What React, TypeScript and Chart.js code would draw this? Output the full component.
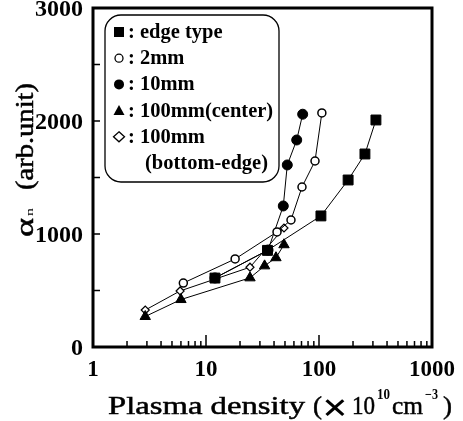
import React, { useEffect, useRef } from 'react';
import { Chart, registerables } from 'chart.js';

Chart.register(...registerables);

// ---- data ----
const edgeX = [12, 35, 104, 181, 255, 319];
const edgeY = [610, 855, 1160, 1478, 1708, 2009];
const mm2X = [6.3, 18.1, 42.5, 56.5, 70.7, 92.2, 106];
const mm2Y = [566, 779, 1018, 1124, 1416, 1646, 2071];
const mm10X = [12, 35.4, 48.3, 52.4, 63.5, 71.7];
const mm10Y = [611, 858, 1248, 1611, 1832, 2060];
const centerX = [2.9, 6.0, 24.5, 33, 41.6, 49];
const centerY = [270, 420, 612, 718, 790, 905];
const bottomX = [2.9, 5.9, 24.5, 49];
const bottomY = [327, 496, 706, 1053];

const xTicks = [1, 10, 100, 1000];
const yTicks = [0, 1000, 2000, 3000];
const yMinorStep = 500;
const legendLabels = ['edge type', '2mm', '10mm', '100mm(center)', '100mm', '(bottom-edge)'];

const SERIF = '"Liberation Serif", "Times New Roman", serif';

const pts = (xs: number[], ys: number[]) => xs.map((x, i) => ({ x, y: ys[i] }));

function fitText(ctx: CanvasRenderingContext2D, text: string, x0: number, x1: number, y: number, stroke = 0) {
  const w = ctx.measureText(text).width;
  ctx.save();
  ctx.translate(x0, y);
  const sx = (x1 - x0) / w;
  ctx.scale(sx, 1);
  ctx.textAlign = 'left';
  ctx.fillText(text, 0, 0);
  if (stroke > 0) {
    ctx.lineWidth = stroke;
    ctx.strokeText(text, 0, 0);
  }
  ctx.restore();
}

function drawSymbol(ctx: CanvasRenderingContext2D, kind: number, x: number, y: number) {
  ctx.save();
  ctx.strokeStyle = '#000';
  ctx.fillStyle = '#000';
  ctx.lineWidth = 1.3;
  ctx.beginPath();
  if (kind === 0) {
    ctx.rect(x - 5, y - 5, 10, 10);
    ctx.fill();
  } else if (kind === 1) {
    ctx.arc(x, y, 4, 0, Math.PI * 2);
    ctx.fillStyle = '#fff';
    ctx.fill();
    ctx.stroke();
  } else if (kind === 2) {
    ctx.arc(x, y, 5, 0, Math.PI * 2);
    ctx.fill();
  } else if (kind === 3) {
    ctx.moveTo(x, y - 5.5);
    ctx.lineTo(x + 5.5, y + 4.5);
    ctx.lineTo(x - 5.5, y + 4.5);
    ctx.closePath();
    ctx.fill();
  } else {
    ctx.moveTo(x, y - 5);
    ctx.lineTo(x + 5.5, y);
    ctx.lineTo(x, y + 5);
    ctx.lineTo(x - 5.5, y);
    ctx.closePath();
    ctx.fillStyle = '#fff';
    ctx.fill();
    ctx.stroke();
  }
  ctx.restore();
}

const decorPlugin = {
  id: 'decor',
  afterDraw(chart: any) {
    const { ctx, chartArea } = chart;
    const xs = chart.scales.x;
    const ys = chart.scales.y;
    const { left, right, top, bottom } = chartArea;
    ctx.save();
    ctx.strokeStyle = '#000';
    ctx.fillStyle = '#000';

    // frame
    ctx.lineWidth = 3;
    ctx.strokeRect(left, top, right - left, bottom - top);

    // inward ticks, x (log)
    ctx.lineWidth = 1.5;
    ctx.beginPath();
    for (let d = 1; d < 1000; d *= 10) {
      for (let m = 1; m <= 9; m++) {
        const v = d * m;
        const px = xs.getPixelForValue(v);
        const len = m === 1 ? 12 : 6;
        ctx.moveTo(px, bottom);
        ctx.lineTo(px, bottom - len);
      }
    }
    // inward ticks, y
    for (let v = yMinorStep; v < 3000; v += yMinorStep) {
      const py = ys.getPixelForValue(v);
      ctx.moveTo(left, py);
      ctx.lineTo(left + 7, py);
    }
    ctx.stroke();

    // x title
    ctx.textBaseline = 'alphabetic';
    ctx.font = `26px ${SERIF}`;
    fitText(ctx, 'Plasma density', 108, 305, 414, 0.5);
    fitText(ctx, '(', 313, 322, 414, 0.5);
    ctx.font = `bold 40px ${SERIF}`;
    fitText(ctx, '\u00D7', 322, 348, 421);
    ctx.font = `26px ${SERIF}`;
    fitText(ctx, '10', 352, 375, 414, 0.5);
    fitText(ctx, 'cm', 392, 423, 414, 0.5);
    fitText(ctx, ')', 443, 452, 414, 0.5);
    ctx.font = `bold 14px ${SERIF}`;
    fitText(ctx, '10', 377, 390, 399);
    fitText(ctx, '\u22123', 425, 438, 399);

    // y title (rotated)
    ctx.save();
    ctx.translate(33, 237);
    ctx.rotate(-Math.PI / 2);
    ctx.font = `25px ${SERIF}`;
    fitText(ctx, '\u03B1', 0, 19, 0, 0.5);
    ctx.font = `11px ${SERIF}`;
    fitText(ctx, 'n', 21, 29, 0);
    ctx.font = `25px ${SERIF}`;
    fitText(ctx, '(arb.unit)', 47, 154, 0, 0.5);
    ctx.restore();

    // legend box
    const bx0 = 105, by0 = 15, bx1 = 279, by1 = 182, r = 16;
    ctx.lineWidth = 1.3;
    ctx.beginPath();
    ctx.moveTo(bx0 + r, by0);
    ctx.lineTo(bx1 - r, by0);
    ctx.arcTo(bx1, by0, bx1, by0 + r, r);
    ctx.lineTo(bx1, by1 - r);
    ctx.arcTo(bx1, by1, bx1 - r, by1, r);
    ctx.lineTo(bx0 + r, by1);
    ctx.arcTo(bx0, by1, bx0, by1 - r, r);
    ctx.lineTo(bx0, by0 + r);
    ctx.arcTo(bx0, by0, bx0 + r, by0, r);
    ctx.closePath();
    ctx.fillStyle = '#fff';
    ctx.fill();
    ctx.stroke();

    ctx.fillStyle = '#000';
    ctx.font = `bold 20.5px ${SERIF}`;
    ctx.textAlign = 'left';
    legendLabels.forEach((lab, i) => {
      const base = 38 + 26.2 * i;
      if (i < 5) {
        drawSymbol(ctx, i, 119, base - 6);
        ctx.fillText(':', 128, base);
        ctx.fillText(lab, 140, base);
      } else {
        ctx.fillText(lab, 145, base);
      }
    });

    ctx.restore();
  },
};

export default function App() {
  const ref = useRef<HTMLCanvasElement | null>(null);

  useEffect(() => {
    if (!ref.current) return;
    const line = { borderColor: '#000', borderWidth: 1, tension: 0, showLine: true, pointBorderColor: '#000' };
    const chart = new Chart(ref.current, {
      type: 'line',
      data: {
        datasets: [
          { ...line, label: 'edge type', data: pts(edgeX, edgeY), pointStyle: 'rect', pointRadius: 7, pointBackgroundColor: '#000', pointBorderWidth: 1 },
          { ...line, label: '2mm', data: pts(mm2X, mm2Y), pointStyle: 'circle', pointRadius: 4, pointBackgroundColor: '#fff', pointBorderWidth: 1.5 },
          { ...line, label: '10mm', data: pts(mm10X, mm10Y), pointStyle: 'circle', pointRadius: 5, pointBackgroundColor: '#000', pointBorderWidth: 1 },
          { ...line, label: '100mm(center)', data: pts(centerX, centerY), pointStyle: 'triangle', pointRadius: 6, pointBackgroundColor: '#000', pointBorderWidth: 1 },
          { ...line, label: '100mm (bottom-edge)', data: pts(bottomX, bottomY), pointStyle: 'rectRot', pointRadius: 4, pointBackgroundColor: '#fff', pointBorderWidth: 1.2 },
        ] as any,
      },
      options: {
        responsive: true,
        maintainAspectRatio: false,
        animation: false,
        layout: { padding: { top: 8, right: 31, left: 0, bottom: 0 } },
        plugins: { legend: { display: false }, tooltip: { enabled: false }, title: { display: false } },
        scales: {
          x: {
            type: 'logarithmic',
            min: 1,
            max: 1000,
            position: 'bottom',
            grid: { display: false, drawTicks: false },
            border: { display: false },
            afterBuildTicks: (s: any) => { s.ticks = xTicks.map((v) => ({ value: v })); },
            afterFit: (s: any) => { s.height = 74; s.paddingLeft = 0; s.paddingRight = 0; },
            ticks: {
              color: '#000',
              font: { family: SERIF, size: 23, weight: 'bold' },
              padding: 9,
              maxRotation: 0,
              autoSkip: false,
              callback: (v: any) => String(v),
            },
          },
          y: {
            type: 'linear',
            min: 0,
            max: 3000,
            grid: { display: false, drawTicks: false },
            border: { display: false },
            afterBuildTicks: (s: any) => { s.ticks = yTicks.map((v) => ({ value: v })); },
            afterFit: (s: any) => { s.width = 93; s.paddingTop = 0; s.paddingBottom = 0; },
            ticks: {
              color: '#000',
              font: { family: SERIF, size: 24, weight: 'bold' },
              padding: 10,
              labelOffset: 1.5,
              autoSkip: false,
              callback: (v: any) => String(v),
            },
          },
        },
      } as any,
      plugins: [decorPlugin],
    });
    return () => chart.destroy();
  }, []);

  return (
    <div style={{ position: 'absolute', left: 0, top: 0, width: 463, height: 421, background: '#fff' }}>
      <canvas ref={ref} />
    </div>
  );
}
